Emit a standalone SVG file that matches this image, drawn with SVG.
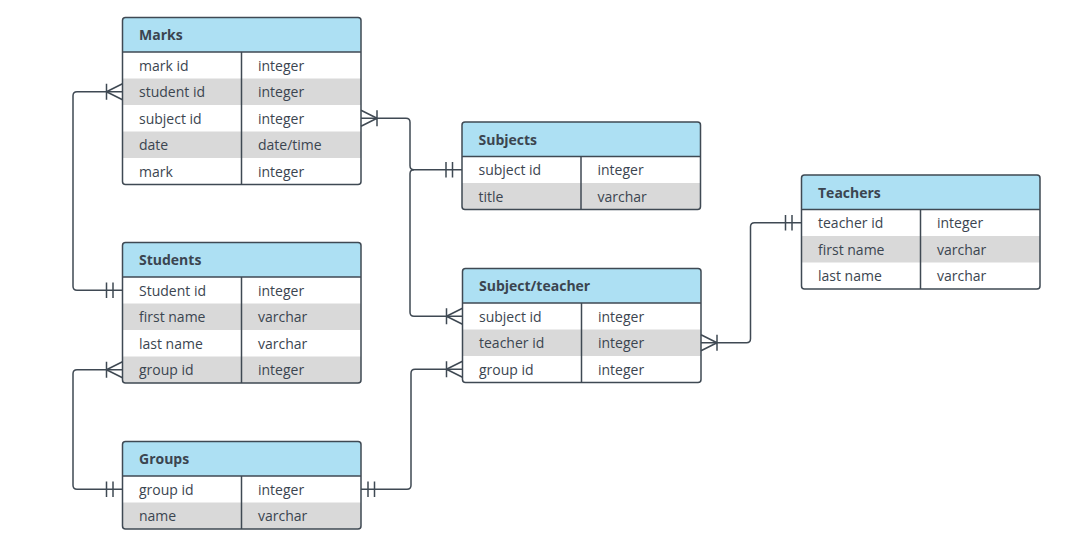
<svg xmlns="http://www.w3.org/2000/svg" width="1075" height="553" viewBox="0 0 1075 553">
<style>
.hd{fill:#ade0f3}
.alt{fill:#d9d9d9}
.wh{fill:#ffffff}
.box{fill:none;stroke:#3f4953;stroke-width:1.5}
.ln{stroke:#3f4953;stroke-width:1.5;fill:none}
.con{stroke:#3f4953;stroke-width:1.5;fill:none;stroke-linejoin:round}
.t{font-family:"Open Sans","Noto Sans",sans-serif;font-size:14px;fill:#3b4550}
.h{font-family:"Open Sans","Noto Sans",sans-serif;font-size:14px;font-weight:bold;fill:#3b4550}
</style>
<rect width="1075" height="553" fill="#ffffff"/>

<g id="marks">
<rect class="hd" x="122.5" y="17.5" width="238.5" height="34.5" rx="3"/>
<rect class="wh" x="122.5" y="52" width="238.5" height="132.5"/>
<rect class="alt" x="122.5" y="78.5" width="238.5" height="26.5"/>
<rect class="alt" x="122.5" y="131.5" width="238.5" height="26.5"/>
<rect class="box" x="122.5" y="17.5" width="238.5" height="167" rx="3"/>
<line class="ln" x1="122.5" y1="52" x2="361" y2="52"/>
<line class="ln" x1="241.5" y1="52" x2="241.5" y2="184.5"/>
<text class="h" x="139" y="40">Marks</text>
<text class="t" x="139" y="70.5">mark id</text><text class="t" x="258" y="70.5">integer</text>
<text class="t" x="139" y="97">student id</text><text class="t" x="258" y="97">integer</text>
<text class="t" x="139" y="123.5">subject id</text><text class="t" x="258" y="123.5">integer</text>
<text class="t" x="139" y="150">date</text><text class="t" x="258" y="150">date/time</text>
<text class="t" x="139" y="176.5">mark</text><text class="t" x="258" y="176.5">integer</text>
</g>

<g id="subjects">
<rect class="hd" x="462" y="122" width="238.5" height="34.5" rx="3"/>
<rect class="wh" x="462" y="156.5" width="238.5" height="26.5"/>
<rect class="alt" x="462" y="183" width="238.5" height="26.5"/>
<rect class="box" x="462" y="122" width="238.5" height="87.5" rx="3"/>
<line class="ln" x1="462" y1="156.5" x2="700.5" y2="156.5"/>
<line class="ln" x1="581" y1="156.5" x2="581" y2="209.5"/>
<text class="h" x="478.5" y="144.5">Subjects</text>
<text class="t" x="478.5" y="175">subject id</text><text class="t" x="597.5" y="175">integer</text>
<text class="t" x="478.5" y="201.5">title</text><text class="t" x="597.5" y="201.5">varchar</text>
</g>

<g id="students">
<rect class="hd" x="122.5" y="242.5" width="238.5" height="34.5" rx="3"/>
<rect class="wh" x="122.5" y="277" width="238.5" height="106"/>
<rect class="alt" x="122.5" y="303.5" width="238.5" height="26.5"/>
<rect class="alt" x="122.5" y="356.5" width="238.5" height="26.5"/>
<rect class="box" x="122.5" y="242.5" width="238.5" height="140.5" rx="3"/>
<line class="ln" x1="122.5" y1="277" x2="361" y2="277"/>
<line class="ln" x1="241.5" y1="277" x2="241.5" y2="383"/>
<text class="h" x="139" y="265">Students</text>
<text class="t" x="139" y="295.5">Student id</text><text class="t" x="258" y="295.5">integer</text>
<text class="t" x="139" y="322">first name</text><text class="t" x="258" y="322">varchar</text>
<text class="t" x="139" y="348.5">last name</text><text class="t" x="258" y="348.5">varchar</text>
<text class="t" x="139" y="375">group id</text><text class="t" x="258" y="375">integer</text>
</g>

<g id="groups">
<rect class="hd" x="122.5" y="441.5" width="238.5" height="34.5" rx="3"/>
<rect class="wh" x="122.5" y="476" width="238.5" height="26.5"/>
<rect class="alt" x="122.5" y="502.5" width="238.5" height="26.5"/>
<rect class="box" x="122.5" y="441.5" width="238.5" height="87.5" rx="3"/>
<line class="ln" x1="122.5" y1="476" x2="361" y2="476"/>
<line class="ln" x1="241.5" y1="476" x2="241.5" y2="529"/>
<text class="h" x="139" y="464">Groups</text>
<text class="t" x="139" y="494.5">group id</text><text class="t" x="258" y="494.5">integer</text>
<text class="t" x="139" y="521">name</text><text class="t" x="258" y="521">varchar</text>
</g>

<g id="subject-teacher">
<rect class="hd" x="462.5" y="268.5" width="238.5" height="34.5" rx="3"/>
<rect class="wh" x="462.5" y="303" width="238.5" height="79.5"/>
<rect class="alt" x="462.5" y="329.5" width="238.5" height="26.5"/>
<rect class="box" x="462.5" y="268.5" width="238.5" height="114" rx="3"/>
<line class="ln" x1="462.5" y1="303" x2="701" y2="303"/>
<line class="ln" x1="581.5" y1="303" x2="581.5" y2="382.5"/>
<text class="h" x="479" y="291">Subject/teacher</text>
<text class="t" x="479" y="321.5">subject id</text><text class="t" x="598" y="321.5">integer</text>
<text class="t" x="479" y="348">teacher id</text><text class="t" x="598" y="348">integer</text>
<text class="t" x="479" y="374.5">group id</text><text class="t" x="598" y="374.5">integer</text>
</g>

<g id="teachers">
<rect class="hd" x="801.5" y="175" width="238.5" height="34.5" rx="3"/>
<rect class="wh" x="801.5" y="209.5" width="238.5" height="79.5"/>
<rect class="alt" x="801.5" y="236" width="238.5" height="26.5"/>
<rect class="box" x="801.5" y="175" width="238.5" height="114" rx="3"/>
<line class="ln" x1="801.5" y1="209.5" x2="1040" y2="209.5"/>
<line class="ln" x1="920.5" y1="209.5" x2="920.5" y2="289"/>
<text class="h" x="818" y="197.5">Teachers</text>
<text class="t" x="818" y="228">teacher id</text><text class="t" x="937" y="228">integer</text>
<text class="t" x="818" y="254.5">first name</text><text class="t" x="937" y="254.5">varchar</text>
<text class="t" x="818" y="281">last name</text><text class="t" x="937" y="281">varchar</text>
</g>

<g id="connectors">
<!-- Marks.student id -> Students.Student id -->
<path class="con" d="M122.5,91.75 H77 Q73,91.75 73,95.75 V286.25 Q73,290.25 77,290.25 H122.5"/>
<path class="con" d="M122.5,83.75 L106.5,91.75 L122.5,99.75 M106.5,83.75 V99.75"/>
<path class="con" d="M106.5,282.5 V298 M113,282.5 V298"/>
<!-- Students.group id -> Groups.group id -->
<path class="con" d="M122.5,369.75 H77 Q73,369.75 73,373.75 V485.25 Q73,489.25 77,489.25 H122.5"/>
<path class="con" d="M122.5,361.75 L106.5,369.75 L122.5,377.75 M106.5,361.75 V377.75"/>
<path class="con" d="M106.5,481.5 V497 M113,481.5 V497"/>
<!-- Groups.group id -> Subject/teacher.group id -->
<path class="con" d="M361,489.25 H407 Q411,489.25 411,485.25 V373.25 Q411,369.25 415,369.25 H462.5"/>
<path class="con" d="M368,481.5 V497 M374.5,481.5 V497"/>
<path class="con" d="M462.5,361.25 L446.5,369.25 L462.5,377.25 M446.5,361.25 V377.25"/>
<!-- Marks.subject id -> Subjects.subject id -->
<path class="con" d="M361,118.25 H406 Q410,118.25 410,122.25 V165.75 Q410,169.75 414,169.75 H462"/>
<path class="con" d="M361,110.25 L377,118.25 L361,126.25 M377,110.25 V126.25"/>
<path class="con" d="M446,162 V177.5 M452.5,162 V177.5"/>
<!-- Subjects.subject id -> Subject/teacher.subject id -->
<path class="con" d="M414,169.75 Q410,169.75 410,173.75 V312.25 Q410,316.25 414,316.25 H462.5"/>
<path class="con" d="M462.5,308.25 L446.5,316.25 L462.5,324.25 M446.5,308.25 V324.25"/>
<!-- Subject/teacher.teacher id -> Teachers.teacher id -->
<path class="con" d="M701,342.75 H746.5 Q750.5,342.75 750.5,338.75 V226.75 Q750.5,222.75 754.5,222.75 H801.5"/>
<path class="con" d="M701,334.75 L717,342.75 L701,350.75 M717,334.75 V350.75"/>
<path class="con" d="M785.5,215 V230.5 M792,215 V230.5"/>
</g>
</svg>
